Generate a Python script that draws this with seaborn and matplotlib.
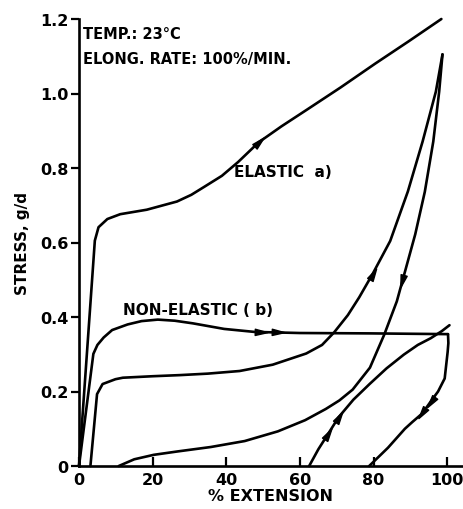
import numpy as np
import pandas as pd
import matplotlib
matplotlib.use("Agg")
import matplotlib.pyplot as plt
from matplotlib.path import Path
from matplotlib.markers import MarkerStyle
from matplotlib.transforms import Affine2D
import seaborn as sns

# ---------------- data ----------------
# Elastic fibre (a): first loading
elastic_load_x = [0, 4.3, 5.3, 7.7, 11.2, 18.4, 26.6, 30.5, 34.1, 38.8, 43.2, 48.8, 55.0, 61.8, 71.0, 80.4, 89.5, 98.4]
elastic_load_y = [0, 0.605, 0.641, 0.663, 0.676, 0.688, 0.710, 0.728, 0.750, 0.779, 0.816, 0.869, 0.912, 0.956, 1.016, 1.080, 1.140, 1.200]

# Elastic fibre (a): reloading
elastic_reload_x = [3.1, 4.9, 6.4, 9.9, 11.9, 20.0, 27.4, 35.0, 43.6, 52.6, 61.7, 66.0, 69.3, 73.0, 76.1, 79.7, 84.5, 89.3, 93.3, 96.9, 98.7]
elastic_reload_y = [0, 0.193, 0.220, 0.233, 0.237, 0.241, 0.244, 0.248, 0.255, 0.272, 0.302, 0.325, 0.359, 0.405, 0.453, 0.515, 0.604, 0.737, 0.871, 1.005, 1.105]

# Elastic fibre (a): unloading
elastic_unload_x = [98.7, 97.8, 96.2, 93.9, 91.3, 87.8, 86.3, 82.9, 79.0, 74.3, 70.7, 67.0, 61.4, 54.0, 45.0, 35.8, 26.7, 20.3, 15.0, 10.8]
elastic_unload_y = [1.105, 1.005, 0.871, 0.736, 0.622, 0.496, 0.442, 0.353, 0.264, 0.205, 0.176, 0.153, 0.123, 0.093, 0.067, 0.051, 0.039, 0.030, 0.018, 0]

# Non-elastic fibre (b): loading
nonel_load_x = [0, 3.9, 5.0, 6.7, 9.0, 13.2, 17.0, 21.4, 26.0, 30.9, 39.4, 47.6, 60.0, 79.2, 100.2]
nonel_load_y = [0, 0.301, 0.325, 0.345, 0.365, 0.380, 0.389, 0.393, 0.390, 0.383, 0.368, 0.360, 0.357, 0.356, 0.354]

# Non-elastic fibre (b): unloading
nonel_unload_x = [100.2, 100.3, 100.1, 99.3, 97.5, 95.5, 93.2, 90.5, 88.5, 83.9, 78.8]
nonel_unload_y = [0.354, 0.330, 0.306, 0.235, 0.200, 0.173, 0.141, 0.118, 0.100, 0.049, 0]

# Non-elastic fibre (b): reloading
nonel_reload_x = [62.5, 65.0, 67.7, 70.5, 74.5, 78.9, 83.5, 88.2, 92.0, 95.5, 98.5, 100.6]
nonel_reload_y = [0, 0.045, 0.087, 0.131, 0.178, 0.220, 0.262, 0.299, 0.325, 0.343, 0.362, 0.378]

# direction arrows: which curve, at which % extension
arrow_curve = ["elastic_load", "elastic_reload", "elastic_unload",
               "nonel_load", "nonel_load", "nonel_unload", "nonel_unload",
               "nonel_reload", "nonel_reload"]
arrow_x = [48.8, 79.7, 87.8, 49.3, 54.0, 95.5, 93.2, 67.7, 70.5]

x_ticks = [0, 20, 40, 60, 80, 100]
x_tick_labels = ["0", "20", "40", "60", "80", "100"]
y_ticks = [0, 0.2, 0.4, 0.6, 0.8, 1.0, 1.2]
y_tick_labels = ["0", "0.2", "0.4", "0.6", "0.8", "1.0", "1.2"]

x_label = "% EXTENSION"
y_label = "STRESS, g/d"
note_lines = ["TEMP.: 23°C", "ELONG. RATE: 100%/MIN."]
label_elastic = "ELASTIC  a)"
label_nonelastic = "NON-ELASTIC ( b)"

# ---------------- drawing ----------------
sns.set_theme(style="ticks")
plt.rcParams["font.family"] = ["DejaVu Sans"]
plt.rcParams["font.weight"] = "bold"
plt.rcParams["text.color"] = "black"
plt.rcParams["axes.labelcolor"] = "black"

W, H = 464, 510
fig = plt.figure(figsize=(W / 100, H / 100), dpi=100)
fig.patch.set_facecolor("white")
ax = fig.add_axes([79 / W, 43 / H, 383 / W, 447 / H])
ax.set_facecolor("white")

curves = {
    "elastic_load": (elastic_load_x, elastic_load_y),
    "elastic_reload": (elastic_reload_x, elastic_reload_y),
    "elastic_unload": (elastic_unload_x, elastic_unload_y),
    "nonel_load": (nonel_load_x, nonel_load_y),
    "nonel_unload": (nonel_unload_x, nonel_unload_y),
    "nonel_reload": (nonel_reload_x, nonel_reload_y),
}

LW = 1.9
for name, (xs, ys) in curves.items():
    df = pd.DataFrame({"x": xs, "y": ys})
    sns.lineplot(data=df, x="x", y="y", sort=False, estimator=None,
                 color="black", lw=LW, ax=ax, clip_on=False,
                 solid_joinstyle="round", solid_capstyle="round")

ax.set_xlim(0, 104)
ax.set_ylim(0, 1.2)

# arrow heads placed on the curves
head = Path([(1.0, 0.0), (-1.0, 0.5), (-1.0, -0.5), (1.0, 0.0)],
            [Path.MOVETO, Path.LINETO, Path.LINETO, Path.CLOSEPOLY])
fig.canvas.draw()
for cname, x0 in zip(arrow_curve, arrow_x):
    xs, ys = np.asarray(curves[cname][0], float), np.asarray(curves[cname][1], float)
    for i in range(len(xs) - 1):
        a, b = xs[i], xs[i + 1]
        if min(a, b) <= x0 <= max(a, b) and a != b:
            t = (x0 - a) / (b - a)
            y0 = ys[i] + t * (ys[i + 1] - ys[i])
            p0 = ax.transData.transform((xs[i], ys[i]))
            p1 = ax.transData.transform((xs[i + 1], ys[i + 1]))
            ang = np.degrees(np.arctan2(p1[1] - p0[1], p1[0] - p0[0]))
            m = MarkerStyle(head, transform=Affine2D().rotate_deg(ang))
            ax.plot([x0], [y0], marker=m, ms=9, color="black", mec="black",
                    mew=1.0, linestyle="none", clip_on=False)
            break

sns.despine(ax=ax)
for s in ("left", "bottom"):
    ax.spines[s].set_linewidth(1.9)
    ax.spines[s].set_color("black")

ax.set_xticks(x_ticks)
ax.set_xticklabels(x_tick_labels)
ax.set_yticks(y_ticks)
ax.set_yticklabels(y_tick_labels)
ax.tick_params(axis="x", direction="in", length=6.5, width=1.6, pad=4,
               labelsize=11.5, colors="black")
ax.tick_params(axis="y", direction="out", length=6, width=1.6, pad=1.5,
               labelsize=11.5, colors="black")
for lab in ax.get_xticklabels() + ax.get_yticklabels():
    lab.set_fontweight("bold")

ax.set_xlabel(x_label, fontsize=11.5, fontweight="bold", labelpad=1, color="black")
ax.set_ylabel(y_label, fontsize=11, fontweight="bold", labelpad=7, color="black")

ax.text(1.2, 1.16, note_lines[0], fontsize=10.5, fontweight="bold", va="center", ha="left", color="black")
ax.text(1.2, 1.095, note_lines[1], fontsize=10.5, fontweight="bold", va="center", ha="left", color="black")
ax.text(42.0, 0.79, label_elastic, fontsize=11, fontweight="bold", va="center", ha="left", color="black")
ax.text(12.0, 0.42, label_nonelastic, fontsize=11, fontweight="bold", va="center", ha="left", color="black")

fig.savefig("out.png", dpi=100, facecolor="white")
